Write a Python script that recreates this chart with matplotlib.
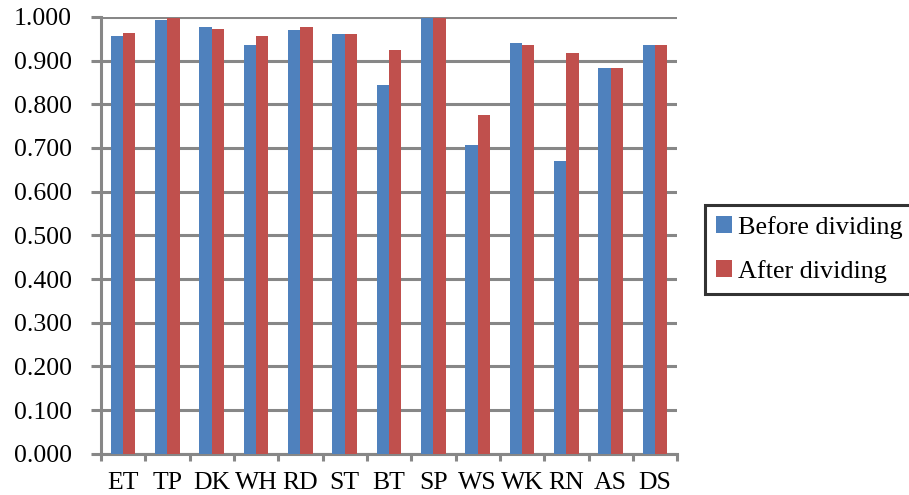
"""Grouped bar chart of accuracy before and after dividing, per class."""
import numpy as np
import matplotlib
matplotlib.use('Agg')
import matplotlib.pyplot as plt
from matplotlib.patches import Patch
from matplotlib.ticker import FormatStrFormatter, MultipleLocator

categories = ['ET', 'TP', 'DK', 'WH', 'RD', 'ST', 'BT', 'SP', 'WS', 'WK', 'RN', 'AS', 'DS']
before = [0.955, 0.993, 0.977, 0.936, 0.969, 0.960, 0.845, 0.997, 0.707, 0.941, 0.670, 0.882, 0.936]
after = [0.963, 0.998, 0.973, 0.955, 0.977, 0.960, 0.923, 0.997, 0.776, 0.936, 0.918, 0.882, 0.936]
series_labels = ['Before dividing', 'After dividing']

BLUE = '#4F81BD'
RED = '#C0504D'
GRID = '#878787'

plt.rcParams['font.family'] = ['Liberation Serif', 'DejaVu Serif']

fig = plt.figure(figsize=(9.09, 4.95), dpi=100)
ax = fig.add_axes([0.111, 0.083, 0.634, 0.883])

x = np.arange(len(categories))
w = 0.28
ax.bar(x - w / 2, before, width=w, color=BLUE, zorder=3)
ax.bar(x + w / 2, after, width=w, color=RED, zorder=3)

ax.set_xlim(-0.5, len(categories) - 0.5)
ax.set_ylim(0, 1.0)
ax.yaxis.set_major_locator(MultipleLocator(0.1))
ax.yaxis.set_major_formatter(FormatStrFormatter('%.3f'))
ax.yaxis.grid(True, color=GRID, linewidth=2.2, zorder=0)
ax.set_axisbelow(True)

# category labels sit between the boundary ticks
ax.set_xticks(np.arange(len(categories) + 1) - 0.5)
ax.set_xticklabels([])
ax.set_xticks(x, minor=True)
ax.set_xticklabels(categories, minor=True, fontsize=18.5)
ax.tick_params(axis='x', which='minor', length=0, pad=13)
ax.tick_params(axis='x', which='major', length=5, width=2.2, color=GRID, direction='out')
ax.tick_params(axis='y', length=7, width=2.2, color=GRID, labelsize=18.5, pad=14)

for side in ('top', 'right'):
    ax.spines[side].set_visible(False)
for side in ('left', 'bottom'):
    ax.spines[side].set_color(GRID)
    ax.spines[side].set_linewidth(2.2)

handles = [Patch(facecolor=BLUE), Patch(facecolor=RED)]
leg = fig.legend(handles, series_labels, loc='upper left',
                 bbox_to_anchor=(705 / 909, 1 - 205 / 495),
                 fontsize=18.8, frameon=True, fancybox=False,
                 handlelength=0.6, handleheight=0.6, handletextpad=0.25,
                 labelspacing=0.8, borderpad=0.42, borderaxespad=0)
leg.get_frame().set_edgecolor('black')
leg.get_frame().set_linewidth(2.2)

fig.savefig('out.png', dpi=100)
